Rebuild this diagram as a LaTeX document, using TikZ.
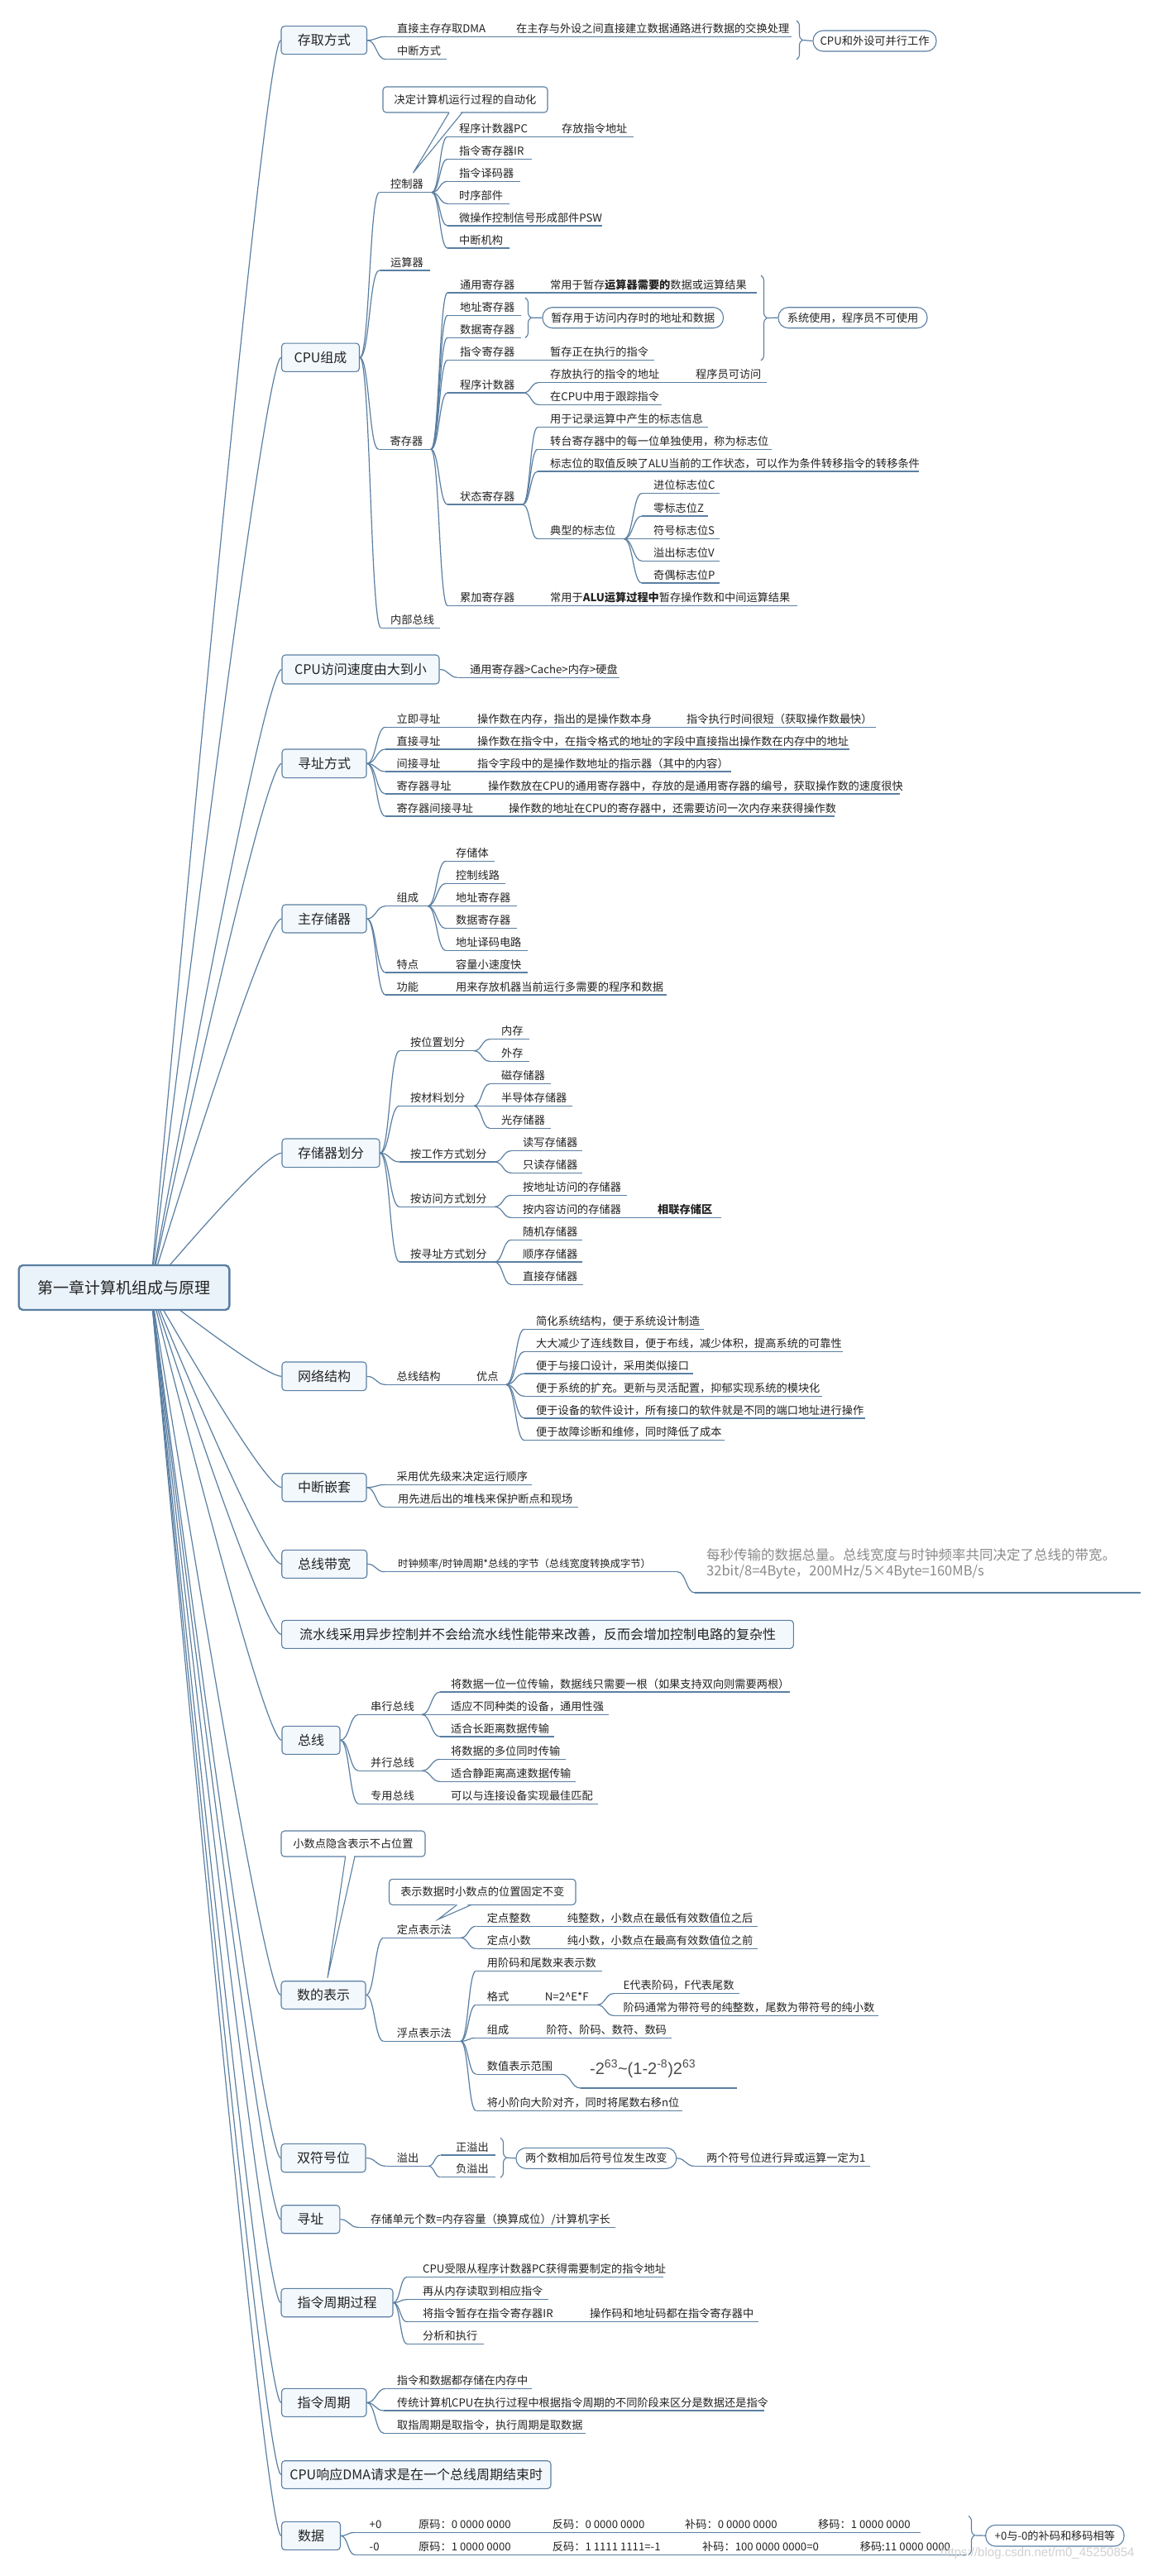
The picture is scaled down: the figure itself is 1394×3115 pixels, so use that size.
\documentclass[tikz,border=0pt]{standalone}
\usepackage{fontspec}
\setmainfont{Noto Sans CJK SC}
\newfontfamily\lat{Liberation Sans}
\usetikzlibrary{calc,decorations.pathreplacing}
\definecolor{lnc}{HTML}{5A7FA2}
\definecolor{bxf}{HTML}{F3F8FD}
\definecolor{rtf}{HTML}{EAF2FA}
\definecolor{txc}{HTML}{222222}
\definecolor{gtx}{HTML}{8A8A8A}
\newcommand\fs[1]{\fontsize{#1}{#1}\selectfont}
\newcommand\Ln[4]{\coordinate (#1s) at (#2,#4);\coordinate (#1e) at (#3,#4);\draw[conn] (#1s) -- (#1e);}
\newcommand\Tx[4]{\node[tx] (#1) at (#2,#3-5) {#4};}
\newcommand\Cn[2]{\draw[conn] (#1) .. controls ($(#1)!.5!(#1-|#2)$) and ($(#2)!.5!(#2-|#1)$) .. (#2);}
\newcommand\Rn[1]{\coordinate (rq) at ($(#1.west)+(-20,0)$);\draw[conn] (rs) .. controls ($(rs)!.6667!(rq)$) and ($(#1.west)!.6667!(rq)$) .. (#1.west);}
\newcommand\Br[4]{\draw[brc] (#2,#3) -- (#2,#4);\coordinate (#1) at (#2+7,{(#3+#4)/2});}
\tikzset{
 conn/.style={draw=lnc, line width=1.2pt},
 topic/.style={draw=lnc, fill=bxf, rounded corners=4pt, line width=1.1pt, inner sep=0pt, font=\fs{16}, text=txc},
 tx/.style={inner sep=0pt, anchor=base west, font=\fs{13.2}, text=txc},
 pill/.style={draw=lnc, fill=white, rounded corners=12pt, line width=1.1pt, inner sep=0pt, font=\fs{13.2}, text=txc},
 callout/.style={draw=lnc, fill=white, rounded corners=4pt, line width=1.1pt, inner sep=0pt, font=\fs{13.2}, text=txc},
 brc/.style={draw=lnc, line width=1.1pt, decorate, decoration={brace, amplitude=7pt}},
}
\begin{document}
\begin{tikzpicture}[x=1pt,y=-1pt]
\useasboundingbox (0,0) rectangle (1394,3115);
\fill[white] (0,0) rectangle (1394,3115);

% topic boxes
\node[topic, minimum width=103.5pt, minimum height=34pt] (t1) at (391.75,48.7) {存取方式};
\node[topic, minimum width=94pt, minimum height=34.3pt] (t2) at (387.5,432.2) {CPU组成};
\node[topic, minimum width=190pt, minimum height=35pt] (t3) at (436,809.5) {CPU访问速度由大到小};
\node[topic, minimum width=102pt, minimum height=34.7pt] (t4) at (392,923.3) {寻址方式};
\node[topic, minimum width=102pt, minimum height=34pt] (t5) at (392,1111) {主存储器};
\node[topic, minimum width=118pt, minimum height=34.7pt] (t6) at (400,1394.3) {存储器划分};
\node[topic, minimum width=102pt, minimum height=34.7pt] (t7) at (392,1664.3) {网络结构};
\node[topic, minimum width=102pt, minimum height=34pt] (t8) at (392,1798.7) {中断嵌套};
\node[topic, minimum width=103pt, minimum height=34pt] (t9) at (392.2,1891.3) {总线带宽};
\node[topic, minimum width=618.7pt, minimum height=34pt] (t10) at (650,1976.3) {流水线采用异步控制并不会给流水线性能带来改善，反而会增加控制电路的复杂性};
\node[topic, minimum width=70pt, minimum height=34pt] (t11) at (376,2104.3) {总线};
\node[topic, minimum width=102pt, minimum height=33.6pt] (t12) at (391,2412.5) {数的表示};
\node[topic, minimum width=102pt, minimum height=34.4pt] (t13) at (391,2609.5) {双符号位};
\node[topic, minimum width=70.8pt, minimum height=34pt] (t14) at (375.4,2683.7) {寻址};
\node[topic, minimum width=135pt, minimum height=34.4pt] (t15) at (407.5,2784.5) {指令周期过程};
\node[topic, minimum width=102.5pt, minimum height=34pt] (t16) at (391.7,2905.3) {指令周期};
\node[topic, minimum width=325.5pt, minimum height=33.6pt] (t17) at (503.2,2992.5) {CPU响应DMA请求是在一个总线周期结束时};
\node[topic, minimum width=71pt, minimum height=34pt] (t18) at (376,3066.3) {数据};

% root connectors (drawn under the root box)
\coordinate (rs) at (182,1557);
\foreach \t in {t1,t2,t3,t4,t5,t6,t7,t8,t9,t10,t11,t12,t13,t14,t15,t16,t17,t18} {\Rn{\t}}
\node[draw=lnc, fill=rtf, line width=2.4pt, rounded corners=5pt, minimum width=254.6pt, minimum height=54pt, inner sep=0pt, text=txc, font=\fs{19}] (root) at (150,1557) {第一章计算机组成与原理};

% ---- 1 存取方式
\Ln{a1}{466}{957}{44.3}\Tx{a1t}{480}{44.3}{直接主存存取DMA}\Tx{a1c}{624}{44.3}{在主存与外设之间直接建立数据通路进行数据的交换处理}
\Ln{a2}{466}{540}{71.7}\Tx{a2t}{480}{71.7}{中断方式}
\Cn{t1.east}{a1s}\Cn{t1.east}{a2s}
\Br{b1}{963}{25}{72}
\node[pill, minimum width=149pt, minimum height=25pt] (p1) at (1057.5,49.5) {CPU和外设可并行工作};
\draw[conn] (b1) -- (p1.west);

% ---- 2 CPU组成
\Ln{k1}{458.5}{522}{232.7}\Tx{k1t}{472}{232.7}{控制器}
\Ln{k2}{458.5}{520}{327}\Tx{k2t}{472}{327}{运算器}
\Ln{k3}{457.6}{521}{543.3}\Tx{k3t}{471.5}{543.3}{寄存器}
\Ln{k4}{460.6}{532}{759.3}\Tx{k4t}{472}{759.3}{内部总线}
\Cn{t2.east}{k1s}\Cn{t2.east}{k2s}\Cn{t2.east}{k3s}\Cn{t2.east}{k4s}
\node[callout, minimum width=199pt, minimum height=31pt] (c1) at (562.5,120.5) {决定计算机运行过程的自动化};
\coordinate (c1a) at (543,136);\coordinate (c1b) at (559,136);\coordinate (c1p) at (499.5,209);
\fill[white] ($(c1a)+(0.6,-2)$) -- (c1p) -- ($(c1b)+(-0.6,-2)$) -- cycle;
\draw[lnc, line width=1.1pt] (c1a) -- (c1p) -- (c1b);
\Ln{ka}{541}{766}{165.3}\Tx{kat}{555}{165.3}{程序计数器PC}\Tx{kac}{679}{165.3}{存放指令地址}
\Ln{kb}{541}{643}{192.3}\Tx{kbt}{555}{192.3}{指令寄存器IR}
\Ln{kc}{541}{629}{219.3}\Tx{kct}{555}{219.3}{指令译码器}
\Ln{kd}{541}{616}{246.3}\Tx{kdt}{555}{246.3}{时序部件}
\Ln{ke}{541}{728}{273}\Tx{ket}{555}{273}{微操作控制信号形成部件PSW}
\Ln{kf}{541}{616}{300}\Tx{kft}{555}{300}{中断机构}
\foreach \c in {kas,kbs,kcs,kds,kes,kfs} {\Cn{k1e}{\c}}
\Ln{ra}{541}{915}{354}\Tx{rat}{556}{354}{通用寄存器}\Tx{rac}{665}{354}{常用于暂存\textbf{运算器需要的}数据或运算结果}
\Ln{rb}{541}{630}{381.3}\Tx{rbt}{556}{381.3}{地址寄存器}
\Ln{rc}{541}{630}{408.3}\Tx{rct}{556}{408.3}{数据寄存器}
\Ln{rd}{541}{791}{435.3}\Tx{rdt}{556}{435.3}{指令寄存器}\Tx{rdc}{665}{435.3}{暂存正在执行的指令}
\Ln{re}{541}{633}{475}\Tx{ret}{556}{475}{程序计数器}
\Ln{rf}{541}{632}{610}\Tx{rft}{556}{610}{状态寄存器}
\Ln{rg}{541}{963.6}{732.3}\Tx{rgt}{556}{732.3}{累加寄存器}\Tx{rgc}{665}{732.3}{常用于\textbf{ALU运算过程中}暂存操作数和中间运算结果}
\foreach \c in {ras,rbs,rcs,rds,res,rfs,rgs} {\Cn{k3e}{\c}}
\Br{b2}{635}{360}{408.5}
\node[pill, minimum width=218.5pt, minimum height=25pt] (p2) at (765.25,384.2) {暂存用于访问内存时的地址和数据};
\draw[conn] (b2) -- (p2.west);
\Br{b3}{920}{333}{436}
\node[pill, minimum width=180pt, minimum height=25pt] (p3) at (1031,384.2) {系统使用，程序员不可使用};
\draw[conn] (b3) -- (p3.west);
\Ln{rea}{651}{927}{462.7}\Tx{reat}{665}{462.7}{存放执行的指令的地址}\Tx{reac}{841}{462.7}{程序员可访问}
\Ln{reb}{651}{800}{489.3}\Tx{rebt}{665}{489.3}{在CPU中用于跟踪指令}
\Cn{ree}{reas}\Cn{ree}{rebs}
\Ln{rfa}{650}{856}{516.7}\Tx{rfat}{665}{516.7}{用于记录运算中产生的标志信息}
\Ln{rfb}{650}{933}{543.3}\Tx{rfbt}{665}{543.3}{转台寄存器中的每一位单独使用，称为标志位}
\Ln{rfc}{650}{1111}{570}\Tx{rfct}{665}{570}{标志位的取值反映了ALU当前的工作状态，可以作为条件转移指令的转移条件}
\Ln{rfd}{650}{754.5}{651.7}\Tx{rfdt}{665}{651.7}{典型的标志位}
\foreach \c in {rfas,rfbs,rfcs,rfds} {\Cn{rfe}{\c}}
\Ln{fa}{776}{870}{596.7}\Tx{fat}{790}{596.7}{进位标志位C}
\Ln{fb}{776}{856}{624}\Tx{fbt}{790}{624}{零标志位Z}
\Ln{fc}{776}{870}{651.7}\Tx{fct}{790}{651.7}{符号标志位S}
\Ln{fd}{776}{870}{678.3}\Tx{fdt}{790}{678.3}{溢出标志位V}
\Ln{ff}{776}{870}{705}\Tx{fft}{790}{705}{奇偶标志位P}
\foreach \c in {fas,fbs,fcs,fds,ffs} {\Cn{rfde}{\c}}

% ---- 3
\Ln{s1}{553.5}{749}{819.3}\Tx{s1t}{568}{819.3}{通用寄存器>Cache>内存>硬盘}
\Cn{t3.east}{s1s}

% ---- 4 寻址方式
\Ln{x1}{466}{1059}{879.3}\Tx{x1t}{479.5}{879.3}{立即寻址}\Tx{x1c}{577}{879.3}{操作数在内存，指出的是操作数本身}\Tx{x1d}{830}{879.3}{指令执行时间很短（获取操作数最快）}
\Ln{x2}{466}{1027}{906}\Tx{x2t}{479.5}{906}{直接寻址}\Tx{x2c}{577}{906}{操作数在指令中，在指令格式的地址的字段中直接指出操作数在内存中的地址}
\Ln{x3}{466}{884}{933}\Tx{x3t}{479.5}{933}{间接寻址}\Tx{x3c}{577}{933}{指令字段中的是操作数地址的指示器（其中的内容）}
\Ln{x4}{466}{1088}{960}\Tx{x4t}{479.5}{960}{寄存器寻址}\Tx{x4c}{590}{960}{操作数放在CPU的通用寄存器中，存放的是通用寄存器的编号，获取操作数的速度很快}
\Ln{x5}{466}{1009}{987}\Tx{x5t}{479.5}{987}{寄存器间接寻址}\Tx{x5c}{615}{987}{操作数的地址在CPU的寄存器中，还需要访问一次内存来获得操作数}
\foreach \c in {x1s,x2s,x3s,x4s,x5s} {\Cn{t4.east}{\c}}

% ---- 5 主存储器
\Ln{m1}{466}{517}{1095.7}\Tx{m1t}{479.5}{1095.7}{组成}
\Ln{m2}{466}{637.6}{1176}\Tx{m2t}{479.5}{1176}{特点}\Tx{m2c}{551}{1176}{容量小速度快}
\Ln{m3}{466}{806}{1203}\Tx{m3t}{479.5}{1203}{功能}\Tx{m3c}{551}{1203}{用来存放机器当前运行多需要的程序和数据}
\foreach \c in {m1s,m2s,m3s} {\Cn{t5.east}{\c}}
\Ln{ma}{539}{598}{1041.3}\Tx{mat}{551}{1041.3}{存储体}
\Ln{mb}{539}{611}{1068.3}\Tx{mbt}{551}{1068.3}{控制线路}
\Ln{mc}{539}{625}{1095.7}\Tx{mct}{551}{1095.7}{地址寄存器}
\Ln{md}{539}{625}{1122.7}\Tx{mdt}{551}{1122.7}{数据寄存器}
\Ln{mf}{539}{637.6}{1149.3}\Tx{mft}{551}{1149.3}{地址译码电路}
\foreach \c in {mas,mbs,mcs,mds,mfs} {\Cn{m1e}{\c}}

% ---- 6 存储器划分
\Ln{d1}{483}{573}{1270.7}\Tx{d1t}{496}{1270.7}{按位置划分}
\Ln{d2}{483}{573}{1337.3}\Tx{d2t}{496}{1337.3}{按材料划分}
\Ln{d3}{483}{598}{1405}\Tx{d3t}{496}{1405}{按工作方式划分}
\Ln{d4}{483}{598}{1459.3}\Tx{d4t}{496}{1459.3}{按访问方式划分}
\Ln{d5}{483}{598}{1526}\Tx{d5t}{496}{1526}{按寻址方式划分}
\foreach \c in {d1s,d2s,d3s,d4s,d5s} {\Cn{t6.east}{\c}}
\Ln{daa}{592}{640}{1256.7}\Tx{daat}{606}{1256.7}{内存}
\Ln{dab}{592}{640}{1283.3}\Tx{dabt}{606}{1283.3}{外存}
\Cn{d1e}{daas}\Cn{d1e}{dabs}
\Ln{dba}{592}{666}{1310.7}\Tx{dbat}{606}{1310.7}{磁存储器}
\Ln{dbb}{592}{692}{1337.3}\Tx{dbbt}{606}{1337.3}{半导体存储器}
\Ln{dbc}{592}{666}{1364.3}\Tx{dbct}{606}{1364.3}{光存储器}
\Cn{d2e}{dbas}\Cn{d2e}{dbbs}\Cn{d2e}{dbcs}
\Ln{dca}{618}{704}{1391.7}\Tx{dcat}{632}{1391.7}{读写存储器}
\Ln{dcb}{618}{704}{1418.3}\Tx{dcbt}{632}{1418.3}{只读存储器}
\Cn{d3e}{dcas}\Cn{d3e}{dcbs}
\Ln{dda}{618}{757.5}{1445.3}\Tx{ddat}{632}{1445.3}{按地址访问的存储器}
\Ln{ddb}{618}{872}{1472.3}\Tx{ddbt}{632}{1472.3}{按内容访问的存储器}\Tx{ddbc}{795}{1472.3}{\textbf{相联存储区}}
\Cn{d4e}{ddas}\Cn{d4e}{ddbs}
\Ln{dea}{618}{704}{1499.3}\Tx{deat}{632}{1499.3}{随机存储器}
\Ln{deb}{618}{704}{1526}\Tx{debt}{632}{1526}{顺序存储器}
\Ln{dec}{618}{705}{1553.3}\Tx{dect}{632}{1553.3}{直接存储器}
\Cn{d5e}{deas}\Cn{d5e}{debs}\Cn{d5e}{decs}

% ---- 7 网络结构
\Ln{n1}{466}{612}{1674.3}\Tx{n1t}{479.5}{1674.3}{总线结构}\Tx{n1c}{576}{1674.3}{优点}
\Cn{t7.east}{n1s}
\Ln{na}{634}{851}{1607.3}\Tx{nat}{648}{1607.3}{简化系统结构，便于系统设计制造}
\Ln{nb}{634}{1019}{1634.3}\Tx{nbt}{648}{1634.3}{大大减少了连线数目，便于布线，减少体积，提高系统的可靠性}
\Ln{nc}{634}{838}{1661}\Tx{nct}{648}{1661}{便于与接口设计，采用类似接口}
\Ln{nd}{634}{993.6}{1688.3}\Tx{ndt}{648}{1688.3}{便于系统的扩充。更新与灵活配置，抑郁实现系统的模块化}
\Ln{nf}{634}{1045.6}{1715}\Tx{nft}{648}{1715}{便于设备的软件设计，所有接口的软件就是不同的端口地址进行操作}
\Ln{ng}{634}{876}{1741.7}\Tx{ngt}{648}{1741.7}{便于故障诊断和维修，同时降低了成本}
\foreach \c in {nas,nbs,ncs,nds,nfs,ngs} {\Cn{n1e}{\c}}

% ---- 8 中断嵌套
\Ln{z1}{466}{643}{1795.3}\Tx{z1t}{479.5}{1795.3}{采用优先级来决定运行顺序}
\Ln{z2}{465}{698.5}{1822.3}\Tx{z2t}{481}{1822.3}{用先进后出的堆栈来保护断点和现场}
\Cn{t8.east}{z1s}\Cn{t8.east}{z2s}

% ---- 9 总线带宽
\Ln{w1}{465}{819}{1900.7}\node[tx, font=\fs{12.3}] (w1t) at (481,1900.7-5) {时钟频率/时钟周期*总线的字节（总线宽度转换成字节）};
\Cn{t9.east}{w1s}
\Ln{w2}{840}{1379}{1926}
\Cn{w1e}{w2s}
\node[anchor=west, inner sep=0pt, text=gtx, font=\fs{16.5}] (w2a) at (854,1880) {每秒传输的数据总量。总线宽度与时钟频率共同决定了总线的带宽。};
\node[anchor=west, inner sep=0pt, text=gtx, font=\fs{16.5}] (w2b) at (854,1901) {32bit/8=4Byte，200MHz/5×4Byte=160MB/s};

% ---- 11 总线
\Ln{u1}{433.6}{510}{2073.3}\Tx{u1t}{448}{2073.3}{串行总线}
\Ln{u2}{433.6}{510}{2141.3}\Tx{u2t}{448}{2141.3}{并行总线}
\Ln{u3}{433.6}{723}{2181.3}\Tx{u3t}{448}{2181.3}{专用总线}\Tx{u3c}{545}{2181.3}{可以与连接设备实现最佳匹配}
\foreach \c in {u1s,u2s,u3s} {\Cn{t11.east}{\c}}
\Ln{ua}{532}{955}{2046}\Tx{uat}{545}{2046}{将数据一位一位传输，数据线只需要一根（如果支持双向则需要两根）}
\Ln{ub}{532}{736}{2073.3}\Tx{ubt}{545}{2073.3}{适应不同种类的设备，通用性强}
\Ln{uc}{532}{670}{2100}\Tx{uct}{545}{2100}{适合长距离数据传输}
\Cn{u1e}{uas}\Cn{u1e}{ubs}\Cn{u1e}{ucs}
\Ln{ud}{532}{683.5}{2127.3}\Tx{udt}{545}{2127.3}{将数据的多位同时传输}
\Ln{uf}{532}{696}{2154.3}\Tx{uft}{545}{2154.3}{适合静距离高速数据传输}
\Cn{u2e}{uds}\Cn{u2e}{ufs}

% ---- 12 数的表示
\node[callout, minimum width=174pt, minimum height=31pt] (c2) at (427,2229.5) {小数点隐含表示不占位置};
\coordinate (c2a) at (417.7,2245);\coordinate (c2b) at (429,2245);\coordinate (c2p) at (396,2391.7);
\fill[white] ($(c2a)+(0.6,-2)$) -- (c2p) -- ($(c2b)+(-0.6,-2)$) -- cycle;
\draw[lnc, line width=1.1pt] (c2a) -- (c2p) -- (c2b);
\Ln{q1}{463.6}{557}{2343.3}\Tx{q1t}{479.7}{2343.3}{定点表示法}
\Ln{q2}{463.6}{557}{2468.3}\Tx{q2t}{479.7}{2468.3}{浮点表示法}
\Cn{t12.east}{q1s}\Cn{t12.east}{q2s}
\node[callout, minimum width=225.5pt, minimum height=31pt] (c3) at (583.25,2287.8) {表示数据时小数点的位置固定不变};
\coordinate (c3a) at (552.6,2303.3);\coordinate (c3b) at (570,2303.3);\coordinate (c3p) at (529.6,2321);
\fill[white] ($(c3a)+(0.6,-2)$) -- (c3p) -- ($(c3b)+(-0.6,-2)$) -- cycle;
\draw[lnc, line width=1.1pt] (c3a) -- (c3p) -- (c3b);
\Ln{qa}{575.5}{916}{2329.3}\Tx{qat}{588.7}{2329.3}{定点整数}\Tx{qac}{685.7}{2329.3}{纯整数，小数点在最低有效数值位之后}
\Ln{qb}{575.5}{916}{2356.3}\Tx{qbt}{588.7}{2356.3}{定点小数}\Tx{qbc}{685.7}{2356.3}{纯小数，小数点在最高有效数值位之前}
\Cn{q1e}{qas}\Cn{q1e}{qbs}
\Ln{qc}{575.5}{728}{2383.3}\Tx{qct}{588.7}{2383.3}{用阶码和尾数来表示数}
\Ln{qd}{575.5}{722}{2424.3}\Tx{qdt}{588.7}{2424.3}{格式}\Tx{qdc}{658.7}{2424.3}{N=2\textasciicircum E*F}
\Ln{qf}{575.5}{812}{2464.3}\Tx{qft}{588.7}{2464.3}{组成}\Tx{qfc}{660.5}{2464.3}{阶符、阶码、数符、数码}
\Ln{qg}{575.5}{679}{2508.3}\Tx{qgt}{588.7}{2508.3}{数值表示范围}
\Ln{qh}{575.5}{825}{2552.3}\Tx{qht}{588.7}{2552.3}{将小阶向大阶对齐，同时将尾数右移n位}
\foreach \c in {qcs,qds,qfs,qgs,qhs} {\Cn{q2e}{\c}}
\Ln{qda}{742}{894}{2410.7}\Tx{qdat}{753.5}{2410.7}{E代表阶码，F代表尾数}
\Ln{qdb}{742}{1062}{2437.3}\Tx{qdbt}{753.5}{2437.3}{阶码通常为带符号的纯整数，尾数为带符号的纯小数}
\Cn{qde}{qdas}\Cn{qde}{qdbs}
\Ln{qgi}{702}{891}{2525}
\Cn{qge}{qgis}
\node[anchor=base west, inner sep=0pt, text=black!70, font=\lat\fs{20}] (qgf) at (713,2508) {-2\textsuperscript{63}\textasciitilde(1-2\textsuperscript{-8})2\textsuperscript{63}};

% ---- 13 双符号位
\Ln{o1}{466.5}{518}{2619.3}\Tx{o1t}{479.7}{2619.3}{溢出}
\Cn{t13.east}{o1s}
\Ln{oa}{532.5}{598.5}{2606}\Tx{oat}{551}{2606}{正溢出}
\Ln{ob}{532.5}{598.5}{2632.7}\Tx{obt}{551}{2632.7}{负溢出}
\Cn{o1e}{oas}\Cn{o1e}{obs}
\Br{b4}{605}{2585}{2633.3}
\node[pill, minimum width=193.7pt, minimum height=25pt] (p4) at (720.85,2609.8) {两个数相加后符号位发生改变};
\draw[conn] (b4) -- (p4.west);
\Ln{o2}{839.6}{1052}{2619.3}\Tx{o2t}{854}{2619.3}{两个符号位进行异或运算一定为1}
\Cn{p4.east}{o2s}

% ---- 14 寻址
\Ln{y1}{433}{743.7}{2693.3}\Tx{y1t}{448}{2693.3}{存储单元个数=内存容量（换算成位）/计算机字长}
\Cn{t14.east}{y1s}

% ---- 15 指令周期过程
\Ln{g1}{492}{802}{2753.3}\Tx{g1t}{511}{2753.3}{CPU受限从程序计数器PC获得需要制定的指令地址}
\Ln{g2}{492}{663}{2780.7}\Tx{g2t}{511}{2780.7}{再从内存读取到相应指令}
\Ln{g3}{492}{917}{2807.7}\Tx{g3t}{511}{2807.7}{将指令暂存在指令寄存器IR}\Tx{g3c}{713}{2807.7}{操作码和地址码都在指令寄存器中}
\Ln{g4}{492}{585}{2834.3}\Tx{g4t}{511}{2834.3}{分析和执行}
\foreach \c in {g1s,g2s,g3s,g4s} {\Cn{t15.east}{\c}}

% ---- 16 指令周期
\Ln{h1}{466.5}{643}{2888.3}\Tx{h1t}{479.7}{2888.3}{指令和数据都存储在内存中}
\Ln{h2}{464}{924}{2915}\Tx{h2t}{480}{2915}{传统计算机CPU在执行过程中根据指令周期的不同阶段来区分是数据还是指令}
\Ln{h3}{464}{708}{2942.3}\Tx{h3t}{480}{2942.3}{取指周期是取指令，执行周期是取数据}
\foreach \c in {h1s,h2s,h3s} {\Cn{t16.east}{\c}}

% ---- 18 数据
\Ln{e1}{429}{1113}{3062.3}
\Tx{e1a}{446.5}{3062.3}{+0}\Tx{e1b}{506}{3062.3}{原码：0 0000 0000}\Tx{e1c}{667.7}{3062.3}{反码：0 0000 0000}\Tx{e1d}{828}{3062.3}{补码：0 0000 0000}\Tx{e1f}{989}{3062.3}{移码：1 0000 0000}
\Ln{e2}{429}{1168.6}{3089.3}
\Tx{e2a}{446.5}{3089.3}{-0}\Tx{e2b}{506}{3089.3}{原码：1 0000 0000}\Tx{e2c}{667.7}{3089.3}{反码：1 1111 1111=-1}\Tx{e2d}{849}{3089.3}{补码：100 0000 0000=0}\Tx{e2f}{1039.6}{3089.3}{移码:11 0000 0000}
\Cn{t18.east}{e1s}\Cn{t18.east}{e2s}
\Br{b5}{1171}{3042.3}{3089.3}
\node[pill, minimum width=167.3pt, minimum height=25.7pt] (p5) at (1275.35,3066.15) {+0与-0的补码和移码相等};
\draw[conn] (b5) -- (p5.west);
\node[anchor=west, inner sep=0pt, text=black!18, font=\lat\fs{15}] (wm) at (1137,3088) {https://blog.csdn.net/m0\_45250854};
\end{tikzpicture}
\end{document}
